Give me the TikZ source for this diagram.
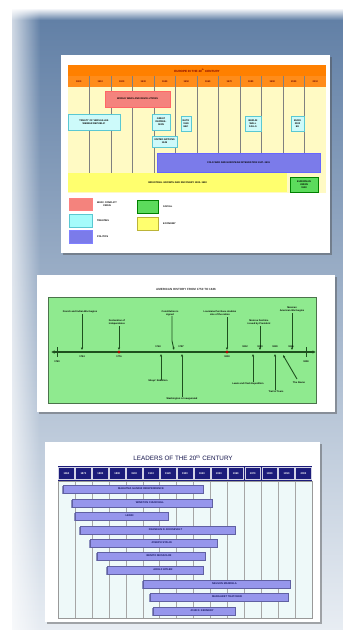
\documentclass[tikz,border=0pt]{standalone}
\usepackage{fontspec}
\setmainfont{Liberation Sans}
\usetikzlibrary{shadows,fadings,arrows.meta}
\definecolor{panelA}{RGB}{98,128,166}
\definecolor{panelB}{RGB}{168,184,206}
\definecolor{panelC}{RGB}{232,237,243}
\definecolor{orgA}{RGB}{255,128,0}
\definecolor{orgB}{RGB}{255,140,26}
\definecolor{creamA}{RGB}{255,250,196}
\definecolor{redA}{RGB}{244,131,125}
\definecolor{cyanA}{RGB}{205,250,250}
\definecolor{cyanB}{RGB}{90,200,210}
\definecolor{blueA}{RGB}{123,123,234}
\definecolor{yelA}{RGB}{255,255,110}
\definecolor{grnA}{RGB}{92,219,92}
\definecolor{grnB}{RGB}{143,234,143}
\definecolor{grnD}{RGB}{30,80,30}
\definecolor{navy}{RGB}{28,28,122}
\definecolor{paleC}{RGB}{238,249,249}
\definecolor{lavA}{RGB}{150,150,236}
\tikzfading[name=fadeR, left color=transparent!0, right color=transparent!100]
\begin{document}
\begin{tikzpicture}[x=1pt,y=-1pt,
  tx/.style={font=\fontsize{2.4}{2.9}\selectfont\bfseries, inner sep=0pt, align=center},
  card/.style={fill=white, drop shadow={shadow xshift=2pt, shadow yshift=-2pt, opacity=.45, fill=black!70}},
  cbox/.style={fill=cyanA, draw=cyanB, line width=.3pt},
  lbar/.style={fill=lavA, draw=navy!70, line width=.3pt, drop shadow={shadow xshift=-.8pt, shadow yshift=-.8pt, opacity=.6, fill=navy!80}},
  evt/.style={line width=.9pt, draw=grnD, -{Latex[length=2.4pt,width=2.4pt]}},
  sw/.style={line width=.3pt}]
\useasboundingbox (0,0) rectangle (343,630);
\fill[white] (0,0) rectangle (343,630);
\shade[top color=white, bottom color=panelA] (12,8) rectangle (343,20);
\shade[top color=panelA, middle color=panelB, bottom color=panelC] (12,20) rectangle (343,630);
\fill[white, path fading=fadeR] (0,0) rectangle (40,630);

% ===== slide 1 =====
\fill[card] (61,55) rectangle (330,253);
\fill[orgA] (68,65) rectangle (326,76);
\node[tx, text=red!50!black, font=\fontsize{3}{3.5}\selectfont\bfseries] (t1) at (197,70.5) {EUROPE IN THE 20\textsuperscript{th} CENTURY};
\fill[orgB] (68,76) rectangle (326,87);
\fill[creamA] (68,87) rectangle (326,193);
\foreach \i in {1,...,11} \draw[black!50, line width=.35pt] ({68+21.5*\i},76) -- ({68+21.5*\i},173);
\foreach \i/\y in {0/1900,1/1910,2/1920,3/1930,4/1940,5/1950,6/1960,7/1970,8/1980,9/1990,10/2000,11/2010}
  \node[tx, text=red!40!black] (y\i) at ({68+21.5*(\i+.5)},81.5) {\y};
\draw[fill=redA, draw=red!60, line width=.3pt] (105,91) rectangle (170,107);
\node[tx] (r1) at (137.5,99) {WORLD WARS AND REVOLUTIONS};
\draw[cbox] (68,114) rectangle (120,130);
\node[tx] (c1) at (94,122) {TREATY OF VERSAILLES\\WEIMAR REPUBLIC};
\draw[cbox] (152,114) rectangle (170,130);
\node[tx] (c2) at (161,122) {GREAT\\DEPRES-\\SION};
\draw[cbox] (181,116) rectangle (191,131);
\node[tx] (c3) at (186,123.5) {NATO\\1949\\EEC};
\draw[cbox] (245,116) rectangle (261,131);
\node[tx] (c4) at (253,123.5) {BERLIN\\WALL\\FALLS};
\draw[cbox] (291,116) rectangle (304,131);
\node[tx] (c5) at (297.5,123.5) {EURO\\2002\\EU};
\draw[cbox] (152,136) rectangle (177,147);
\node[tx] (c6) at (164.5,141.5) {UNITED NATIONS\\1945};
\draw[fill=blueA, draw=blue!60, line width=.3pt] (157,153) rectangle (320,172);
\node[tx] (b1) at (238.5,162.5) {COLD WAR AND EUROPEAN INTEGRATION 1947--1991};
\fill[yelA] (68,173) rectangle (287,192);
\node[tx] (yb) at (177.5,182.5) {INDUSTRIAL GROWTH AND RECOVERY 1900--1990};
\draw[fill=grnA, draw=green!50!black, line width=.3pt] (290,177) rectangle (318,192);
\node[tx] (g1) at (304,184.5) {EUROPEAN\\UNION\\1993};
\draw[sw, fill=redA, draw=red!50] (69,198) rectangle (92,210);
\node[tx, anchor=west] (l1) at (97,204) {WAR / CONFLICT\\CRISIS};
\draw[sw, fill=cyanA!80!cyan, draw=cyanB] (69,214) rectangle (92,227);
\node[tx, anchor=west] (l2) at (97,220.5) {TREATIES};
\draw[sw, fill=blueA, draw=blue!50] (69,230) rectangle (92,243);
\node[tx, anchor=west] (l3) at (97,236.5) {POLITICS};
\draw[sw, fill=grnA, draw=green!50!black] (137,200) rectangle (158,213);
\node[tx, anchor=west] (l4) at (163,206.5) {SOCIAL};
\draw[sw, fill=yelA, draw=yellow!70!black] (137,217) rectangle (158,230);
\node[tx, anchor=west] (l5) at (163,223.5) {ECONOMY};

% ===== slide 2 =====
\fill[card] (37,275) rectangle (335,412);
\node[tx, font=\fontsize{3}{3.5}\selectfont\bfseries, text=black!80] (t2) at (186,289) {AMERICAN HISTORY FROM 1750 TO 1846};
\draw[fill=grnB, draw=grnD!80, line width=.8pt] (48,297) rectangle (316,403);
\coordinate (axL) at (51,352);
\coordinate (axR) at (316,352);
\draw[line width=1.4pt, grnD, {Latex[length=3.5pt,width=3.5pt]}-{Latex[length=3.5pt,width=3.5pt]}] (axL) -- (axR);
\draw[line width=.8pt, grnD] (57,347) -- (57,357);
\draw[line width=.8pt, grnD] (306,347) -- (306,357);
\node[tx] (s0) at (57,362) {1750};
\node[tx] (s1) at (306,362) {1850};
% above events
\node[tx] (eA) at (80,312) {French and Indian War begins};
\coordinate (pA) at (82,350);
\draw[evt] (82,314) -- (pA);
\node[tx] (dA) at (82,357) {1754};
\node[tx] (eB) at (117,322) {Declaration of\\Independence};
\coordinate (pB) at (119,350);
\draw[evt] (119,326) -- (pB);
\fill[red!70!black] (119,352) circle (1.7);
\node[tx] (dB) at (119,357) {1776};
\node[tx] (eC) at (170,313) {Constitution is\\signed};
\coordinate (pC) at (174,350);
\draw[evt] (eC.south) ++(2,0) -- ++(0,25) -- (pC);
\node[tx] (dC) at (181,347) {1787};
\node[tx] (dC2) at (158,347) {1763};
\node[tx] (eD) at (220,313) {Louisiana Purchase doubles\\size of the nation};
\coordinate (pD) at (227,350);
\draw[evt] (227,317) -- (pD);
\fill[red!70!black] (227,352) circle (1.7);
\node[tx] (dD) at (227,357) {1803};
\node[tx] (eE) at (259,322) {Monroe Doctrine\\issued by President};
\coordinate (pE) at (260,350);
\draw[evt] (260,326) -- (pE);
\node[tx] (dE) at (260,347) {1823};
\node[tx] (dE2) at (245,347) {1812};
\node[tx] (dE3) at (275,347) {1830};
\node[tx] (eF) at (292,309) {Mexican\\American War begins};
\coordinate (pF) at (292,350);
\draw[evt] (292,313) -- (pF);
\node[tx] (dF) at (291,347) {1846};
% below events
\node[tx] (eG) at (158,381) {Shays' Rebellion};
\coordinate (pG) at (161,354);
\draw[evt] (161,380) -- (pG);
\node[tx] (eH) at (182,399) {Washington is Inaugurated};
\coordinate (pH) at (182,354);
\draw[evt] (182,397) -- (pH);
\node[tx] (eI) at (248,384) {Lewis and Clark Expedition};
\coordinate (pI) at (253,354);
\draw[evt] (253,382) -- (pI);
\node[tx] (eJ) at (276,392) {Trail of Tears};
\coordinate (pJ) at (275,354);
\draw[evt] (275,390) -- (pJ);
\node[tx] (eK) at (299,383) {The Alamo};
\coordinate (pK) at (283,355);
\draw[evt] (297,379) -- (pK);

% ===== slide 3 =====
\fill[card] (45,442) rectangle (320,622);
\node[inner sep=0pt, font=\fontsize{6.3}{7}\selectfont, text=navy!60!black] (t3) at (183,458) {LEADERS OF THE 20\textsuperscript{th} CENTURY};
\fill[paleC] (58,481) rectangle (312,618);
\fill[navy] (58,466) rectangle (312,481);
\foreach \i [evaluate=\i as \yr using int(1860+10*\i)] in {0,...,14} {
  \draw[white!80!navy, line width=.4pt] ({58+16.93*\i+.6},467.5) rectangle ({58+16.93*(\i+1)-.6},479.5);
  \node[tx, text=white, font=\fontsize{2.6}{3}\selectfont\bfseries] (h\i) at ({58+16.93*(\i+.5)},473.5) {\yr};
}
\foreach \i in {1,...,14} \draw[black!35, line width=.3pt] ({58+16.93*\i},481) -- ({58+16.93*\i},618);
\draw[black!40, line width=.3pt] (58,481) rectangle (312,618);
\foreach \n/\a/\b/\y/\t in {1/63/203/485/MAHATMA GANDHI INDEPENDENCE,2/72/212/499/WINSTON CHURCHILL,3/75/168/512/LENIN,4/80/235/526/FRANKLIN D. ROOSEVELT,5/90/217/539/JOSEPH STALIN,6/97/205/552/BENITO MUSSOLINI,7/107/203/566/ADOLF HITLER,8/143/290/580/NELSON MANDELA,9/150/288/593/MARGARET THATCHER,10/153/235/607/JOHN F. KENNEDY} {
  \draw[lbar] (\a,\y) rectangle (\b,\y+8);
  \node[tx, font=\fontsize{2.6}{3}\selectfont\bfseries, text=navy!80!black] (n\n) at ({(\a+\b)/2+8},\y+4) {\t};
}
\end{tikzpicture}
\end{document}
